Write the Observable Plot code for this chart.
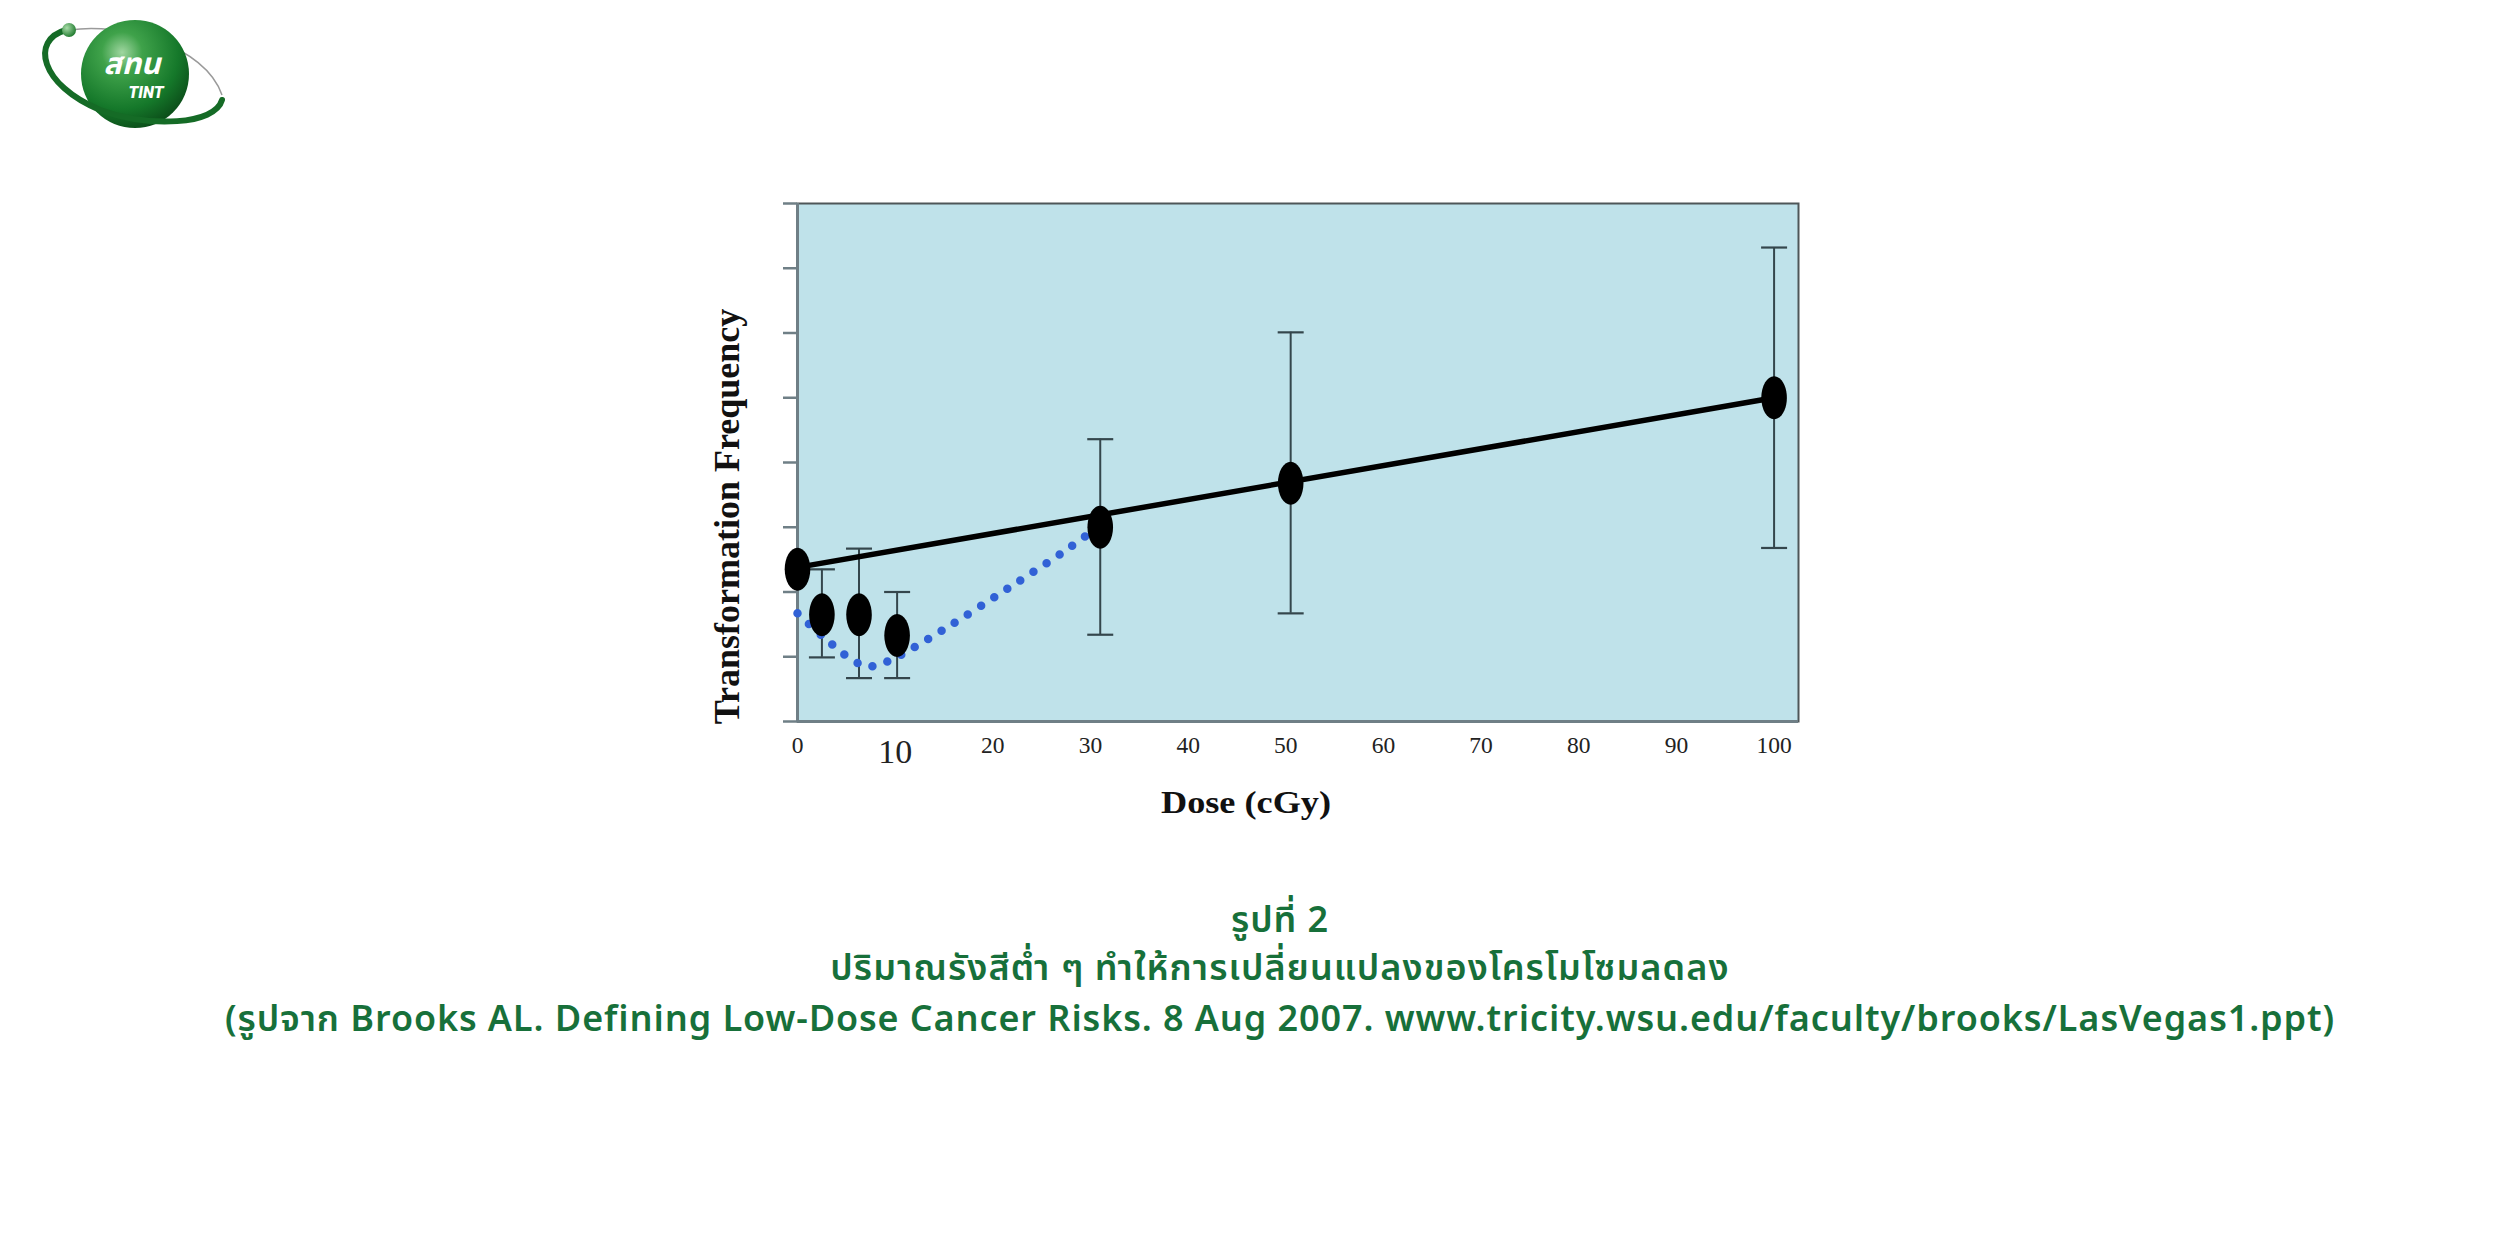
<!DOCTYPE html>
<html>
<head>
<meta charset="utf-8">
<script src="https://cdn.jsdelivr.net/npm/d3@7"></script>
<script src="https://cdn.jsdelivr.net/npm/@observablehq/plot@0.6"></script>
<style>
  html, body { margin: 0; padding: 0; background: #ffffff; }
  #page { position: relative; width: 2501px; height: 1251px; overflow: hidden; background: #fff; }
  #chart { position: absolute; left: 0; top: 0; }
  .cap { position: absolute; left: 0; width: 2560px; text-align: center; color: #17703a;
         font-family: "Noto Sans Thai", "Noto Sans", "Open Sans", sans-serif; font-weight: 600;
         font-size: 36px; line-height: 42px; letter-spacing: 0.9px; white-space: nowrap; }
  #cap2 { letter-spacing: 1.1px; }
  #logo { position: absolute; left: 0; top: 0; }
</style>
</head>
<body>
<div id="page">
  <svg id="logo" width="240" height="140" viewBox="0 0 240 140">
    <defs>
      <radialGradient id="sph" cx="0.38" cy="0.3" r="0.75">
        <stop offset="0" stop-color="#9fd6a0"/>
        <stop offset="0.25" stop-color="#3fa24a"/>
        <stop offset="0.7" stop-color="#15782a"/>
        <stop offset="1" stop-color="#0b4a18"/>
      </radialGradient>
      <radialGradient id="ball" cx="0.35" cy="0.35" r="0.7">
        <stop offset="0" stop-color="#a8dca8"/>
        <stop offset="1" stop-color="#1f7a2e"/>
      </radialGradient>
    </defs>
    <path d="M 70 30 C 120 22, 205 45, 222 95" fill="none" stroke="#9a9a9a" stroke-width="1.5"/>
    <circle cx="135" cy="74" r="54" fill="url(#sph)"/>
    <path d="M 66 30 C 30 40, 40 85, 100 110 C 150 128, 215 125, 222 100" fill="none" stroke="#156b26" stroke-width="6" stroke-linecap="round"/>
    <circle cx="69" cy="30" r="7" fill="url(#ball)"/>
    <text x="132" y="74" text-anchor="middle" fill="#fff" font-family="Noto Sans Thai, Noto Sans, sans-serif" font-weight="700" font-style="italic" font-size="30">สทน</text>
    <text x="146" y="98" text-anchor="middle" fill="#fff" font-family="Roboto, sans-serif" font-weight="900" font-style="italic" font-size="16">TINT</text>
  </svg>
  <div id="chart"></div>
  <div class="cap" style="top:900px;">รูปที่ 2</div>
  <div class="cap" id="cap2" style="top:948px;">ปริมาณรังสีต่ำ ๆ ทำให้การเปลี่ยนแปลงของโครโมโซมลดลง</div>
  <div class="cap" style="top:999px;">(รูปจาก Brooks AL. Defining Low-Dose Cancer Risks. 8 Aug 2007. www.tricity.wsu.edu/faculty/brooks/LasVegas1.ppt)</div>
</div>
<script>
// ---- data ----
const doses      = [0, 2.5, 6.3, 10.2, 31, 50.5, 100];
const freq       = [2.35, 1.65, 1.65, 1.33, 3.0, 3.68, 5.0];
const errLow     = [null, 0.99, 0.67, 0.67, 1.34, 1.67, 2.68];
const errHigh    = [null, 2.35, 2.67, 2.0, 4.36, 6.01, 7.32];
const fitDose    = [0, 100];
const fitFreq    = [2.38, 5.0];
const curveDose  = [0, 2.7, 5.5, 7.2, 8.9, 10.6, 15.5, 21.7, 27.9, 30.5];
const curveFreq  = [1.67, 1.30, 0.96, 0.85, 0.91, 1.03, 1.47, 2.07, 2.69, 2.98];
const xTicks     = [0, 10, 20, 30, 40, 50, 60, 70, 80, 90, 100];
const yTicks     = [0, 1, 2, 3, 4, 5, 6, 7, 8];
const xLabel     = "Dose (cGy)";
const yLabel     = "Transformation Frequency";

const points = doses.map((d, i) => ({dose: d, freq: freq[i], lo: errLow[i], hi: errHigh[i]}));
const bars = points.filter(p => p.lo != null);
const fit = fitDose.map((d, i) => ({dose: d, freq: fitFreq[i]}));
const curve = curveDose.map((d, i) => ({dose: d, freq: curveFreq[i]}));

const K = 0.5523;
const ellipse = {draw(ctx) {
  const rx = 12.8, ry = 21.5;
  ctx.moveTo(rx, 0);
  ctx.bezierCurveTo(rx, ry * K, rx * K, ry, 0, ry);
  ctx.bezierCurveTo(-rx * K, ry, -rx, ry * K, -rx, 0);
  ctx.bezierCurveTo(-rx, -ry * K, -rx * K, -ry, 0, -ry);
  ctx.bezierCurveTo(rx * K, -ry, rx, -ry * K, rx, 0);
  ctx.closePath();
}};
const cap = {draw(ctx) { ctx.moveTo(-13, 0); ctx.lineTo(13, 0); }};

const errColor = "#34464c";
const serif = "Liberation Serif, Times New Roman, serif";

const chart = Plot.plot({
  width: 2501,
  height: 860,
  marginLeft: 797,
  marginRight: 703,
  marginTop: 203,
  marginBottom: 139,
  style: {background: "transparent", fontFamily: serif},
  x: {domain: [0, 102.5], axis: null},
  y: {domain: [0, 8], axis: null},
  marks: [
    Plot.frame({fill: "#bfe2ea", stroke: "#4e5658", strokeWidth: 2}),
    Plot.tickY(yTicks, {y: d => d, dx: -7, stroke: "#6f7f86", strokeWidth: 2.5, marginLeft: 0}),
    Plot.axisY(yTicks, {anchor: "left", tickSize: 14, tickFormat: () => "", stroke: "#6f7f86", strokeWidth: 2.5, text: null}),
    Plot.ruleX([0], {stroke: "#6f7f86", strokeWidth: 3}),
    Plot.ruleY([0], {stroke: "#6f7f86", strokeWidth: 3}),
    // error bars
    Plot.ruleX(bars, {x: "dose", y1: "lo", y2: "hi", stroke: errColor, strokeWidth: 2}),
    Plot.dot(bars, {x: "dose", y: "lo", symbol: cap, fill: "none", stroke: errColor, strokeWidth: 2.2}),
    Plot.dot(bars, {x: "dose", y: "hi", symbol: cap, fill: "none", stroke: errColor, strokeWidth: 2.2}),
    // dotted hormesis curve
    Plot.line(curve, {x: "dose", y: "freq", curve: "catmull-rom", stroke: "#3161d6", strokeWidth: 8.5,
                      strokeLinecap: "round", strokeDasharray: "0 15.6"}),
    // linear fit
    Plot.line(fit, {x: "dose", y: "freq", stroke: "#000", strokeWidth: 5.5}),
    // data points
    Plot.dot(points, {x: "dose", y: "freq", symbol: ellipse, fill: "#000", stroke: "none"}),
    // x tick labels
    Plot.text(xTicks.filter(t => t !== 10), {x: d => d, frameAnchor: "bottom", dy: 24, lineAnchor: "middle",
                      text: d => String(d), fontSize: 23.5, fill: "#222", fontFamily: serif}),
    Plot.text(xTicks.filter(t => t === 10), {x: d => d, frameAnchor: "bottom", dy: 31, lineAnchor: "middle",
                      text: d => String(d), fontSize: 34, fill: "#222", fontFamily: serif}),
    // axis titles
    Plot.text([xLabel], {frameAnchor: "bottom", dx: -52, dy: 82, lineAnchor: "middle", fontSize: 31,
                      fontWeight: "bold", fill: "#111", fontFamily: serif}),
    Plot.text([yLabel], {frameAnchor: "left", textAnchor: "middle", rotate: -90, lineAnchor: "middle", fontSize: 36,
                      fontWeight: "bold", fill: "#111", fontFamily: serif})
  ]
});
// unlabeled y ticks: drop any empty tick-label text and the stray full-width tickY helper
d3.select(chart).selectAll("text").filter(function() { return this.textContent.trim() === ""; }).remove();
d3.select(chart).selectAll('g[aria-label="tick"]').remove();
d3.select(chart).selectAll("text").filter(function() { return this.textContent === yLabel; })
  .attr("transform", "translate(727,516) rotate(-90)")
  .attr("text-anchor", "middle");
d3.select(chart).selectAll("text").filter(function() { return this.textContent === xLabel; })
  .attr("textLength", 170).attr("lengthAdjust", "spacingAndGlyphs");
document.getElementById("chart").appendChild(chart);
</script>
</body>
</html>
